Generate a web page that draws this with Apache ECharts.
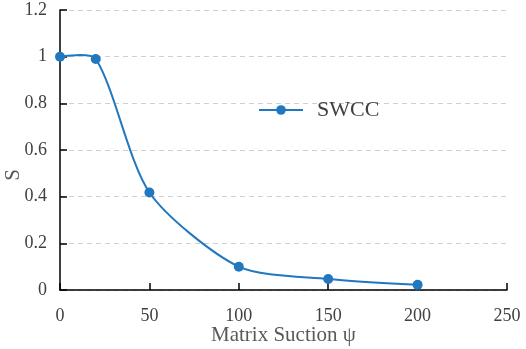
<!DOCTYPE html>
<html><head><meta charset="utf-8">
<script src="https://cdn.jsdelivr.net/npm/echarts@6/dist/echarts.min.js"></script>
<style>html,body{margin:0;padding:0;background:#fff}#c{width:526px;height:349px}</style>
</head><body><div id="c"></div>
<script>
const suction = [0, 20, 50, 100, 150, 200];
const saturation = [1.0, 0.99, 0.418, 0.1, 0.047, 0.022];
const seriesName = 'SWCC';
const xName = 'Matrix Suction ψ';
const yName = 'S';

const font = '"Liberation Serif", "Times New Roman", serif';
const lineColor = '#2178bf';
const SMOOTH = 0.26;

// Smooth curve through the data points (pixel coords from the chart's own scales)
function renderCurve(params, api) {
  const pts = suction.map((x, i) => api.coord([x, saturation[i]]));
  const n = pts.length;
  const cpOut = [], cpIn = [];
  for (let i = 0; i < n; i++) {
    const p = pts[i];
    if (i === 0 || i === n - 1) { cpOut[i] = p.slice(); cpIn[i] = p.slice(); continue; }
    const prev = pts[i - 1], next = pts[i + 1];
    const vx = next[0] - prev[0], vy = next[1] - prev[1];
    const lp = Math.hypot(p[0] - prev[0], p[1] - prev[1]);
    const ln = Math.hypot(next[0] - p[0], next[1] - p[1]);
    const r = ln / (lp + ln);
    cpIn[i] = [p[0] - vx * SMOOTH * (1 - r), p[1] - vy * SMOOTH * (1 - r)];
    cpOut[i] = [p[0] + vx * SMOOTH * r, p[1] + vy * SMOOTH * r];
  }
  let d = 'M' + pts[0][0] + ' ' + pts[0][1];
  for (let i = 0; i < n - 1; i++) {
    d += ' C' + cpOut[i][0] + ' ' + cpOut[i][1] + ' ' + cpIn[i + 1][0] + ' ' + cpIn[i + 1][1] + ' ' + pts[i + 1][0] + ' ' + pts[i + 1][1];
  }
  return { type: 'path', shape: { pathData: d }, style: { fill: null, stroke: lineColor, lineWidth: 2 } };
}

const chart = echarts.init(document.getElementById('c'));
chart.setOption({
  animation: false,
  backgroundColor: '#fff',
  textStyle: { fontFamily: font },
  grid: { left: 60, right: 19, top: 10, bottom: 59, outerBoundsMode: 'none', containLabel: false },
  legend: {
    data: [{ name: seriesName, lineStyle: { color: lineColor, width: 2, opacity: 1 } }],
    left: 253, top: 94,
    itemWidth: 44, itemHeight: 12,
    textStyle: { fontFamily: font, fontSize: 22, color: '#404040', padding: [0, 0, 0, 9] }
  },
  xAxis: {
    type: 'value', min: 0, max: 250, interval: 50,
    name: xName, nameLocation: 'middle', nameGap: 35, nameMoveOverlap: false,
    nameTextStyle: { fontFamily: font, fontSize: 21, color: '#595959' },
    axisLine: { lineStyle: { color: '#000', width: 1.5 } },
    axisTick: { inside: true, length: 7, lineStyle: { color: '#000', width: 1.5 } },
    axisLabel: { fontFamily: font, fontSize: 18, color: '#404040', margin: 17 },
    splitLine: { show: false }
  },
  yAxis: {
    type: 'value', min: 0, max: 1.2, interval: 0.2,
    name: yName, nameLocation: 'middle', nameGap: 36, nameMoveOverlap: false,
    nameTextStyle: { fontFamily: font, fontSize: 21, color: '#595959', padding: [0, 50, 0, 0] },
    axisLine: { show: true, lineStyle: { color: '#000', width: 1.5 } },
    axisTick: { show: true, inside: true, length: 7, lineStyle: { color: '#000', width: 1.5 } },
    axisLabel: { fontFamily: font, fontSize: 18, color: '#404040', margin: 13 },
    splitLine: { show: true, lineStyle: { color: '#d0d0d0', type: [5, 4], width: 1 } }
  },
  series: [
    {
      name: 'curve', type: 'custom', data: [[0, 0]], renderItem: renderCurve,
      clip: false, silent: true, z: 2
    },
    {
      name: seriesName, type: 'line', smooth: false,
      data: suction.map((x, i) => [x, saturation[i]]),
      symbol: 'circle', symbolSize: 10,
      lineStyle: { color: lineColor, width: 2, opacity: 0 },
      itemStyle: { color: lineColor },
      z: 3
    }
  ]
});
</script></body></html>
